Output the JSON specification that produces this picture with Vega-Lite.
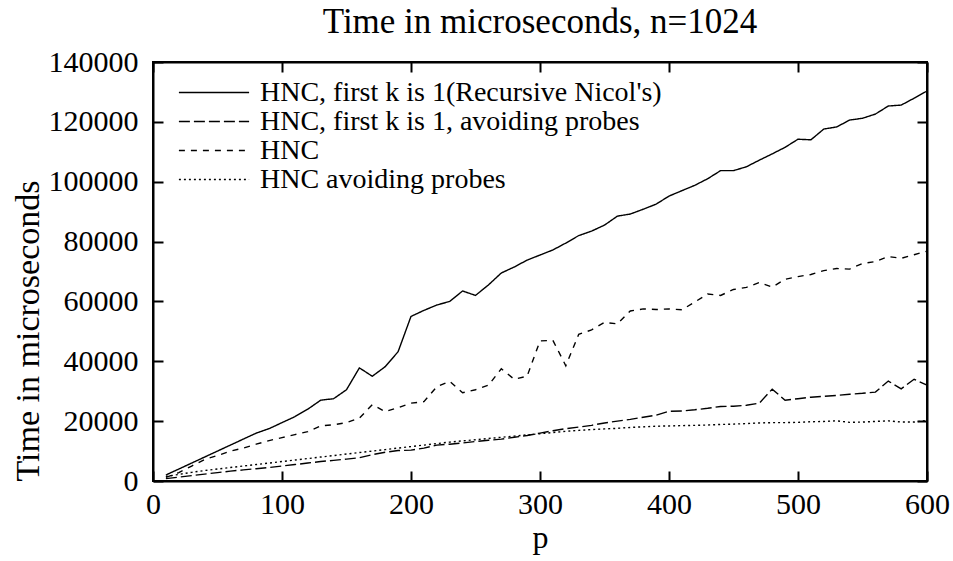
{
  "$schema": "https://vega.github.io/schema/vega-lite/v6.json",
  "width": 774,
  "height": 419,
  "autosize": {"type": "none"},
  "padding": {"left": 153, "top": 62, "right": 26, "bottom": 80},
  "background": "white",
  "config": {
    "font": "Liberation Serif",
    "view": {"stroke": "black", "strokeWidth": 2}
  },
  "title": {"text": "Time in microseconds, n=1024", "font": "Liberation Serif", "fontSize": 35, "fontWeight": "normal", "color": "black", "offset": 7},
  "data": {"values": [
    {"p":10,"a":2000,"b":800,"c":1200,"d":1500},
    {"p":20,"a":4000,"b":1300,"c":2800,"d":2200},
    {"p":30,"a":6000,"b":1800,"c":5000,"d":2900},
    {"p":40,"a":8000,"b":2300,"c":7200,"d":3500},
    {"p":50,"a":10000,"b":2800,"c":8500,"d":4000},
    {"p":60,"a":12000,"b":3300,"c":10000,"d":4500},
    {"p":70,"a":14000,"b":3700,"c":11000,"d":5000},
    {"p":80,"a":16000,"b":4100,"c":12300,"d":5500},
    {"p":90,"a":17500,"b":4500,"c":13500,"d":6000},
    {"p":100,"a":19500,"b":5000,"c":14500,"d":6500},
    {"p":110,"a":21500,"b":5500,"c":15500,"d":7000},
    {"p":120,"a":24000,"b":6000,"c":16500,"d":7500},
    {"p":130,"a":27000,"b":6500,"c":18400,"d":8000},
    {"p":140,"a":27500,"b":6900,"c":18800,"d":8500},
    {"p":150,"a":30500,"b":7300,"c":19500,"d":9000},
    {"p":160,"a":37800,"b":7800,"c":21000,"d":9500},
    {"p":170,"a":35000,"b":8800,"c":25500,"d":10000},
    {"p":180,"a":38200,"b":9600,"c":23200,"d":10500},
    {"p":190,"a":43200,"b":10200,"c":24500,"d":11000},
    {"p":200,"a":55000,"b":10300,"c":26000,"d":11500},
    {"p":210,"a":57000,"b":11000,"c":26500,"d":12000},
    {"p":220,"a":58800,"b":12000,"c":31500,"d":12500},
    {"p":230,"a":60000,"b":12300,"c":33300,"d":13000},
    {"p":240,"a":63500,"b":12700,"c":29500,"d":13400},
    {"p":250,"a":62000,"b":13200,"c":30500,"d":13800},
    {"p":260,"a":65500,"b":13600,"c":32000,"d":14200},
    {"p":270,"a":69500,"b":14000,"c":37500,"d":14600},
    {"p":280,"a":71500,"b":14600,"c":34000,"d":15000},
    {"p":290,"a":73800,"b":15200,"c":35000,"d":15400},
    {"p":300,"a":75500,"b":16000,"c":46800,"d":15800},
    {"p":310,"a":77200,"b":16800,"c":47000,"d":16200},
    {"p":320,"a":79500,"b":17500,"c":38500,"d":16600},
    {"p":330,"a":82000,"b":18000,"c":49000,"d":16900},
    {"p":340,"a":83500,"b":18600,"c":50500,"d":17200},
    {"p":350,"a":85500,"b":19400,"c":53000,"d":17400},
    {"p":360,"a":88500,"b":20000,"c":52500,"d":17600},
    {"p":370,"a":89200,"b":20600,"c":56800,"d":17900},
    {"p":380,"a":90800,"b":21300,"c":57500,"d":18100},
    {"p":390,"a":92500,"b":22000,"c":57300,"d":18300},
    {"p":400,"a":95200,"b":23300,"c":57500,"d":18400},
    {"p":410,"a":97000,"b":23400,"c":57200,"d":18500},
    {"p":420,"a":98800,"b":23800,"c":59800,"d":18600},
    {"p":430,"a":101000,"b":24300,"c":62500,"d":18700},
    {"p":440,"a":103700,"b":24900,"c":62000,"d":18900},
    {"p":450,"a":103700,"b":25000,"c":64000,"d":19000},
    {"p":460,"a":105000,"b":25300,"c":64700,"d":19200},
    {"p":470,"a":107200,"b":26000,"c":66300,"d":19400},
    {"p":480,"a":109300,"b":30700,"c":64800,"d":19500},
    {"p":490,"a":111500,"b":27000,"c":67400,"d":19500},
    {"p":500,"a":114200,"b":27500,"c":68300,"d":19600},
    {"p":510,"a":114000,"b":28000,"c":69000,"d":19800},
    {"p":520,"a":117600,"b":28300,"c":70300,"d":19900},
    {"p":530,"a":118300,"b":28600,"c":71000,"d":20100},
    {"p":540,"a":120600,"b":29000,"c":70800,"d":19600},
    {"p":550,"a":121200,"b":29300,"c":72700,"d":19700},
    {"p":560,"a":122600,"b":29700,"c":73300,"d":19900},
    {"p":570,"a":125300,"b":33400,"c":75000,"d":20100},
    {"p":580,"a":125600,"b":30800,"c":74400,"d":19700},
    {"p":590,"a":127900,"b":34000,"c":75600,"d":19700},
    {"p":600,"a":130300,"b":32000,"c":76800,"d":20200}
  ]},
  "transform": [
    {"fold": ["a", "b", "c", "d"], "as": ["key", "v"]},
    {"lookup": "key", "from": {"data": {"values": [
      {"key": "a", "series": "HNC, first k is 1(Recursive Nicol's)"},
      {"key": "b", "series": "HNC, first k is 1, avoiding probes"},
      {"key": "c", "series": "HNC"},
      {"key": "d", "series": "HNC avoiding probes"}
    ]}, "key": "key", "fields": ["series"]}}
  ],
  "layer": [
    {
      "mark": {"type": "line", "color": "black", "strokeWidth": 1.4},
      "encoding": {
        "x": {"field": "p", "type": "quantitative", "scale": {"domain": [0, 600], "nice": false, "zero": false},
          "axis": {"orient": "bottom", "title": "p", "values": [0,100,200,300,400,500,600], "tickSize": -10, "tickWidth": 2, "tickColor": "black", "domainColor": "black", "domainWidth": 2, "grid": false,
            "labelFont": "Liberation Serif", "labelFontSize": 30, "labelColor": "black", "labelPadding": 18, "labelFlush": false,
            "titleFont": "Liberation Serif", "titleFontSize": 32, "titleFontWeight": "normal", "titleColor": "black", "titlePadding": 3}},
        "y": {"field": "v", "type": "quantitative", "scale": {"domain": [0, 140000], "nice": false},
          "axis": {"orient": "left", "title": "Time in microseconds", "values": [0,20000,40000,60000,80000,100000,120000,140000], "format": "d", "tickSize": -10, "tickWidth": 2, "tickColor": "black", "domainColor": "black", "domainWidth": 2, "grid": false,
            "labelFont": "Liberation Serif", "labelFontSize": 30, "labelColor": "black", "labelPadding": 25, "labelFlush": false,
            "titleFont": "Liberation Serif", "titleFontSize": 34, "titleFontWeight": "normal", "titleColor": "black", "titleAnchor": "start", "titlePadding": 3}},
        "strokeDash": {"field": "series", "type": "nominal",
          "scale": {"domain": ["HNC, first k is 1(Recursive Nicol's)", "HNC, first k is 1, avoiding probes", "HNC", "HNC avoiding probes"],
                    "range": [[1, 0], [11, 4], [6, 6], [2, 3]]},
          "legend": {"orient": "none", "legendX": 46.5, "legendY": 16, "title": null, "padding": 0, "symbolType": "M-2.6,0H2.6", "symbolSize": 729, "symbolStrokeWidth": 1.4, "symbolStrokeColor": "black", "symbolFillColor": "transparent",
            "labelFont": "Liberation Serif", "labelFontSize": 28, "labelColor": "black", "labelOffset": 31.5, "rowPadding": 0, "labelLimit": 800, "fillColor": null, "strokeColor": null}}
      }
    },
    {
      "mark": {"type": "line", "opacity": 0},
      "encoding": {
        "x": {"field": "p", "type": "quantitative",
          "axis": {"orient": "top", "title": null, "labels": false, "values": [0,100,200,300,400,500,600], "tickSize": -10, "tickWidth": 2, "tickColor": "black", "domainColor": "black", "domainWidth": 2, "grid": false}},
        "y": {"field": "v", "type": "quantitative",
          "axis": {"orient": "right", "title": null, "labels": false, "values": [0,20000,40000,60000,80000,100000,120000,140000], "tickSize": -10, "tickWidth": 2, "tickColor": "black", "domainColor": "black", "domainWidth": 2, "grid": false}},
        "detail": {"field": "series", "type": "nominal"}
      }
    }
  ],
  "resolve": {"axis": {"x": "independent", "y": "independent"}}
}
